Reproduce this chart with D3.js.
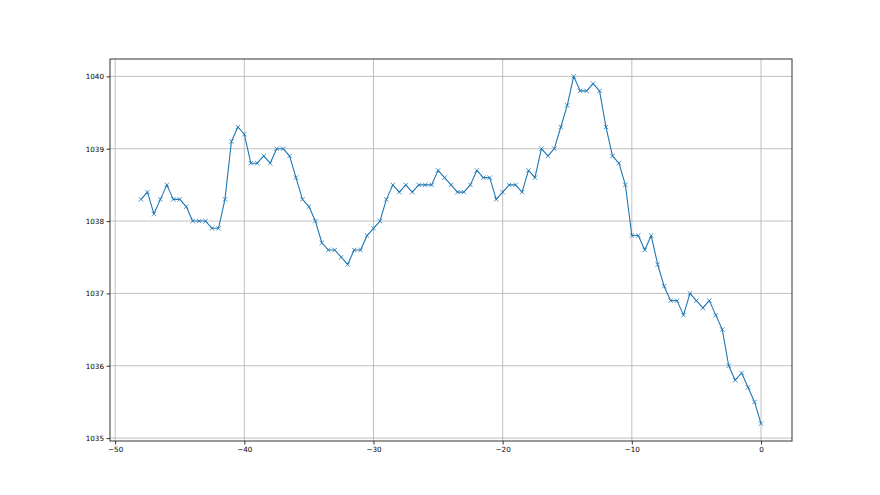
<!DOCTYPE html>
<html>
<head>
<meta charset="utf-8">
<script src="https://cdn.jsdelivr.net/npm/d3@7"></script>
<style>
  html, body { margin: 0; padding: 0; background: #fff; }
  svg { display: block; }
  .tick text { font-family: "DejaVu Sans", sans-serif; font-size: 7.2px; fill: #000; }
</style>
</head>
<body>
<svg id="chart" width="880" height="495"></svg>
<script>
const xStart = -48;
const xStep = 0.5;
const values = [
  1038.3, 1038.4, 1038.1, 1038.3, 1038.5, 1038.3, 1038.3, 1038.2, 1038.0, 1038.0,
  1038.0, 1037.9, 1037.9, 1038.3, 1039.1, 1039.3, 1039.2, 1038.8, 1038.8, 1038.9,
  1038.8, 1039.0, 1039.0, 1038.9, 1038.6, 1038.3, 1038.2, 1038.0, 1037.7, 1037.6,
  1037.6, 1037.5, 1037.4, 1037.6, 1037.6, 1037.8, 1037.9, 1038.0, 1038.3, 1038.5,
  1038.4, 1038.5, 1038.4, 1038.5, 1038.5, 1038.5, 1038.7, 1038.6, 1038.5, 1038.4,
  1038.4, 1038.5, 1038.7, 1038.6, 1038.6, 1038.3, 1038.4, 1038.5, 1038.5, 1038.4,
  1038.7, 1038.6, 1039.0, 1038.9, 1039.0, 1039.3, 1039.6, 1040.0, 1039.8, 1039.8,
  1039.9, 1039.8, 1039.3, 1038.9, 1038.8, 1038.5, 1037.8, 1037.8, 1037.6, 1037.8,
  1037.4, 1037.1, 1036.9, 1036.9, 1036.7, 1037.0, 1036.9, 1036.8, 1036.9, 1036.7,
  1036.5, 1036.0, 1035.8, 1035.9, 1035.7, 1035.5, 1035.2
];
const xTicks = [-50, -40, -30, -20, -10, 0];
const yTicks = [1035, 1036, 1037, 1038, 1039, 1040];

const data = values.map((v, i) => ({ x: xStart + i * xStep, y: v }));

const mLeft = 110, mRight = 792, mTop = 59, mBottom = 441;
const svg = d3.select("#chart");

const xMin = d3.min(data, d => d.x), xMax = d3.max(data, d => d.x);
const yMin = d3.min(data, d => d.y), yMax = d3.max(data, d => d.y);
const xm = (xMax - xMin) * 0.05, ym = (yMax - yMin) * 0.05;

const x = d3.scaleLinear().domain([xMin - xm, xMax + xm]).range([mLeft, mRight]);
const y = d3.scaleLinear().domain([yMin - ym, yMax + ym]).range([mBottom, mTop]);

// grid
const grid = svg.append("g");
grid.selectAll(".gx").data(xTicks).join("line")
  .attr("x1", d => x(d)).attr("x2", d => x(d))
  .attr("y1", mTop).attr("y2", mBottom)
  .attr("stroke", "#b0b0b0").attr("stroke-width", 0.8);
grid.selectAll(".gy").data(yTicks).join("line")
  .attr("x1", mLeft).attr("x2", mRight)
  .attr("y1", d => y(d)).attr("y2", d => y(d))
  .attr("stroke", "#b0b0b0").attr("stroke-width", 0.8);

// line
const line = d3.line().x(d => x(d.x)).y(d => y(d.y));
svg.append("path").datum(data)
  .attr("d", line)
  .attr("fill", "none")
  .attr("stroke", "#1f77b4")
  .attr("stroke-width", 1.1)
  .attr("stroke-linejoin", "round");

// markers 'x'
const ms = 2.2;
svg.append("g").selectAll("path").data(data).join("path")
  .attr("d", d => {
    const cx = x(d.x), cy = y(d.y);
    return `M${cx-ms},${cy-ms}L${cx+ms},${cy+ms}M${cx-ms},${cy+ms}L${cx+ms},${cy-ms}`;
  })
  .attr("stroke", "#1f77b4")
  .attr("stroke-width", 0.8)
  .attr("fill", "none");

// axes
const xAxis = d3.axisBottom(x).tickValues(xTicks).tickFormat(d => d < 0 ? "\u2212" + Math.abs(d) : d)
  .tickSize(3.5).tickPadding(2.5);
const yAxis = d3.axisLeft(y).tickValues(yTicks).tickFormat(d3.format("d"))
  .tickSize(3.5).tickPadding(2.5);

const gx = svg.append("g").attr("transform", `translate(0,${mBottom})`).call(xAxis);
const gy = svg.append("g").attr("transform", `translate(${mLeft},0)`).call(yAxis);
[gx, gy].forEach(g => {
  g.select(".domain").remove();
  g.selectAll(".tick line").attr("stroke", "#000").attr("stroke-width", 0.8);
});

// spines
svg.append("rect")
  .attr("x", mLeft).attr("y", mTop)
  .attr("width", mRight - mLeft).attr("height", mBottom - mTop)
  .attr("fill", "none").attr("stroke", "#333").attr("stroke-width", 1);
</script>
</body>
</html>
